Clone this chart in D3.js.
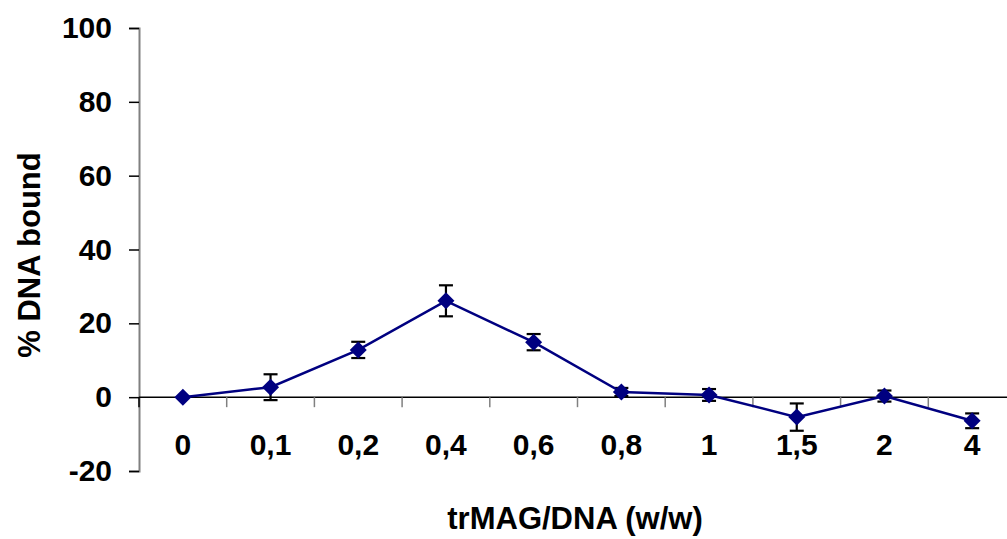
<!DOCTYPE html>
<html>
<head>
<meta charset="utf-8">
<script src="https://cdn.jsdelivr.net/npm/d3@7/dist/d3.min.js"></script>
<style>
  html, body { margin: 0; padding: 0; background: #fff; }
  svg { display: block; }
  text { font-family: "Liberation Sans", Arial, sans-serif; font-weight: bold; fill: #000; }
</style>
</head>
<body>
<svg id="chart" width="1007" height="539"></svg>
<script>
const categories = ["0", "0,1", "0,2", "0,4", "0,6", "0,8", "1", "1,5", "2", "4"];
const values     = [0, 2.7, 12.8, 26.1, 14.9, 1.4, 0.6, -5.4, 0.3, -6.4];
const errors     = [0, 3.5, 2.2, 4.2, 2.2, 1.1, 1.6, 3.7, 1.5, 2.0];
const yTicks     = [-20, 0, 20, 40, 60, 80, 100];
const xTitle = "trMAG/DNA (w/w)";
const yTitle = "% DNA bound";

(function () {
const svg = d3.select("#chart");
const pLeft = 139, pRight = 1016, pTop = 28, pBottom = 471;

const x = d3.scaleBand().domain(categories).range([pLeft, pRight]).paddingInner(0).paddingOuter(0);
const y = d3.scaleLinear().domain([-20, 100]).range([pBottom, pTop]);
const cx = c => x(c) + x.bandwidth() / 2;

// Y axis
const yAxis = svg.append("g")
  .attr("transform", `translate(${pLeft},0)`)
  .call(d3.axisLeft(y).tickValues(yTicks).tickSize(10).tickPadding(17).tickFormat(d => String(d)));
yAxis.select(".domain").attr("stroke", "#808080").attr("stroke-width", 2);
yAxis.selectAll(".tick line").attr("stroke", "#000").attr("stroke-width", 1.5);
yAxis.selectAll(".tick text")
  .style("font-size", "30px").style("font-family", '"Liberation Sans", Arial, sans-serif')
  .style("font-weight", "bold").attr("fill", "#000");

// X axis line at y=0
const y0 = y(0);
svg.append("line")
  .attr("x1", pLeft).attr("x2", pRight).attr("y1", y0).attr("y2", y0)
  .attr("stroke", "#000").attr("stroke-width", 1.5);

// category boundary ticks
const boundaries = categories.map(c => x(c)).concat([x(categories[categories.length - 1]) + x.bandwidth()]);
svg.append("g").selectAll("line").data(boundaries).join("line")
  .attr("x1", d => d).attr("x2", d => d)
  .attr("y1", y0).attr("y2", y0 + 10)
  .attr("stroke", (d, i) => i === 0 ? "#000" : "#808080")
  .attr("stroke-width", 1.5);

// X tick labels
svg.append("g").selectAll("text").data(categories).join("text")
  .attr("x", d => cx(d)).attr("y", 455)
  .attr("text-anchor", "middle")
  .style("font-size", "30px")
  .text(d => d);

// Error bars
const eb = svg.append("g").attr("stroke", "#000").attr("stroke-width", 2.2);
categories.forEach((c, i) => {
  if (!errors[i]) return;
  const xx = cx(c), yt = y(values[i] + errors[i]), yb = y(values[i] - errors[i]);
  eb.append("line").attr("x1", xx).attr("x2", xx).attr("y1", yt).attr("y2", yb);
  eb.append("line").attr("x1", xx - 7).attr("x2", xx + 7).attr("y1", yt).attr("y2", yt);
  eb.append("line").attr("x1", xx - 7).attr("x2", xx + 7).attr("y1", yb).attr("y2", yb);
});

// Line
const line = d3.line().x((d, i) => cx(categories[i])).y(d => y(d));
svg.append("path").datum(values)
  .attr("d", line)
  .attr("fill", "none").attr("stroke", "#000080").attr("stroke-width", 2.5);

// Diamond markers
svg.append("g").selectAll("path").data(values).join("path")
  .attr("d", "M0,-8.5L8.5,0L0,8.5L-8.5,0Z")
  .attr("transform", (d, i) => `translate(${cx(categories[i])},${y(d)})`)
  .attr("fill", "#000080");

// Axis titles
svg.append("text")
  .attr("x", 575).attr("y", 529)
  .attr("text-anchor", "middle")
  .style("font-size", "31px")
  .text(xTitle);

svg.append("text")
  .attr("transform", `translate(40,255) rotate(-90)`)
  .attr("text-anchor", "middle")
  .style("font-size", "31px")
  .text(yTitle);
})();
</script>
</body>
</html>
